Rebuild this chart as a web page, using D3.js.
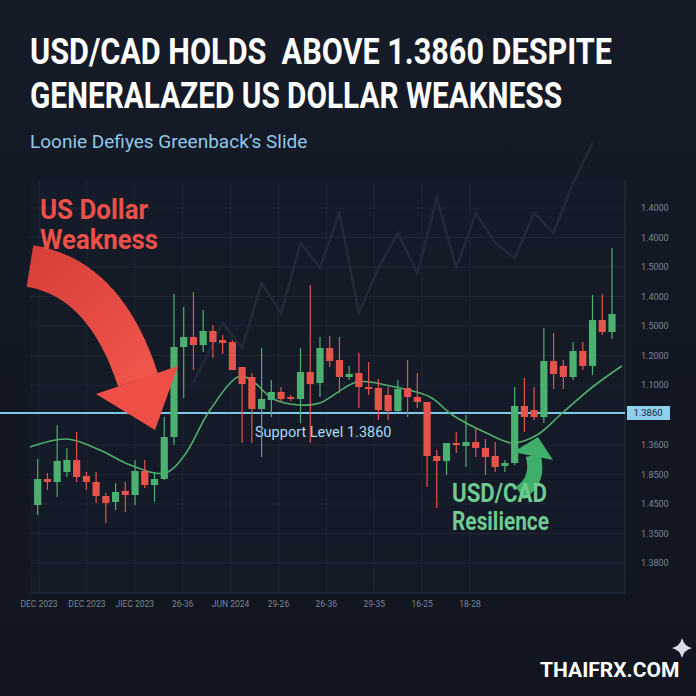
<!DOCTYPE html>
<html>
<head>
<meta charset="utf-8">
<script src="https://cdn.jsdelivr.net/npm/d3@7"></script>
<style>
  html, body { margin: 0; padding: 0; background: #121722; }
  svg { display: block; }
</style>
</head>
<body>
<div id="chart"></div>
<script>
// candles: open, high, low, close
const opens  = [1.3768,1.3794,1.3791,1.3801,1.3813,1.3797,1.3791,1.3777,1.3771,1.3782,1.3778,1.3802,1.3788,1.3794,1.3836,1.3926,1.3936,1.3928,1.3942,1.3933,
                1.3931,1.3906,1.3896,1.3864,1.3873,1.3881,1.3876,1.3874,1.3901,1.3890,1.3925,1.3913,1.3896,1.3900,1.3886,1.3885,1.3878,1.3862,1.3885,1.3876,
                1.3871,1.3817,1.3812,1.3830,1.3827,1.3831,1.3825,1.3817,1.3807,1.3810,1.3867,1.3863,1.3856,1.3912,1.3907,1.3896,1.3922,1.3907,1.3953,1.3941];
const highs  = [1.3814,1.3800,1.3848,1.3825,1.3841,1.3801,1.3801,1.3780,1.3790,1.3791,1.3813,1.3813,1.3801,1.3856,1.3979,1.3966,1.3981,1.3963,1.3948,1.3938,
                1.3933,1.3906,1.3900,1.3925,1.3893,1.3886,1.3878,1.3925,1.3988,1.3936,1.3937,1.3936,1.3907,1.3920,1.3911,1.3894,1.3886,1.3893,1.3913,1.3900,
                1.3871,1.3823,1.3830,1.3841,1.3858,1.3845,1.3834,1.3831,1.3813,1.3886,1.3895,1.3886,1.3945,1.3940,1.3913,1.3931,1.3931,1.3978,1.3979,1.4025];
const lows   = [1.3758,1.3783,1.3776,1.3796,1.3791,1.3783,1.3770,1.3750,1.3763,1.3761,1.3768,1.3785,1.3771,1.3793,1.3828,1.3875,1.3903,1.3921,1.3915,1.3919,
                1.3903,1.3830,1.3830,1.3816,1.3856,1.3871,1.3872,1.3850,1.3830,1.3876,1.3906,1.3880,1.3893,1.3865,1.3878,1.3853,1.3853,1.3861,1.3856,1.3865,
                1.3786,1.3765,1.3798,1.3820,1.3806,1.3816,1.3798,1.3801,1.3801,1.3808,1.3841,1.3853,1.3850,1.3884,1.3884,1.3893,1.3903,1.3898,1.3938,1.3934];
const closes = [1.3794,1.3791,1.3812,1.3813,1.3796,1.3791,1.3777,1.3770,1.3781,1.3778,1.3802,1.3788,1.3794,1.3836,1.3926,1.3936,1.3928,1.3942,1.3931,1.3930,
                1.3903,1.3889,1.3864,1.3874,1.3881,1.3874,1.3874,1.3901,1.3889,1.3925,1.3912,1.3896,1.3899,1.3886,1.3885,1.3863,1.3862,1.3884,1.3876,1.3871,
                1.3817,1.3812,1.3830,1.3828,1.3831,1.3825,1.3816,1.3806,1.3810,1.3867,1.3856,1.3856,1.3912,1.3899,1.3896,1.3922,1.3907,1.3953,1.3941,1.3959];

// moving average (candle index, price)
const maIdx   = [-0.8,3,6.4,9.5,13.1,15.1,17.7,20.8,22.3,24.2,26.9,29,32.8,36.2,40.3,42.6,46.1,48.8,51.3,53.9,57,60];
const maPrice = [1.3826,1.3834,1.3823,1.3808,1.3800,1.3818,1.3863,1.3897,1.3890,1.3874,1.3868,1.3870,1.3891,1.3887,1.3876,1.3858,1.3840,1.3830,1.3838,1.3860,1.3886,1.3907];

// faint background line
const ghostIdx   = [16,19,21,23,25,27,29,31,33,35,37,39,41,43,45,47,49,51,53,55,57];
const ghostPrice = [1.3890,1.3950,1.3925,1.3990,1.3960,1.4030,1.4005,1.4060,1.3960,1.4005,1.4040,1.4000,1.4075,1.4005,1.4060,1.4030,1.4015,1.4060,1.4040,1.4090,1.4130];

const yTickLabels = ['1.4000','1.4000','1.5000','1.4000','1.5000','1.2000','1.1000','1.3600','1.8500','1.4500','1.3500','1.3800'];
const xTickLabels = ['DEC 2023','DEC 2023','JIEC 2023','26-36','JUN 2024','29-26','26-36','29-35','16-25','18-28'];
const support = 1.3860;

const W = 696, H = 696;
const svg = d3.select('#chart').append('svg').attr('width', W).attr('height', H);
const defs = svg.append('defs');

const bg = defs.append('linearGradient').attr('id', 'bg').attr('x1', 0).attr('y1', 0).attr('x2', 0).attr('y2', 1);
bg.append('stop').attr('offset', '0%').attr('stop-color', '#151b27');
bg.append('stop').attr('offset', '100%').attr('stop-color', '#101520');
svg.append('rect').attr('width', W).attr('height', H).attr('fill', 'url(#bg)');

// plot area
const pL = 30, pR = 625, pT = 180, pB = 593;
svg.append('rect').attr('x', pL).attr('y', pT).attr('width', pR - pL).attr('height', pB - pT)
  .attr('fill', '#161d2a').attr('opacity', 0.7);

const x = d3.scaleLinear().domain([0, 59]).range([37.7, 612]);
const y = d3.scaleLinear().domain([1.3683, 1.4093]).range([590, 180]);
// label slots: seven above the support tag, five below
const slotY = i => i < 7 ? 208 + i * 29.5 : 445 + (i - 7) * 29.5;

const small = 'Roboto, sans-serif';
const grid = svg.append('g');
yTickLabels.forEach((t, i) => {
  grid.append('line').attr('x1', pL).attr('x2', pR).attr('y1', slotY(i)).attr('y2', slotY(i))
    .attr('stroke', '#1f2735').attr('stroke-width', 1);
  svg.append('text').attr('x', 641).attr('y', slotY(i)).attr('dy', '0.35em')
    .attr('font-family', small).attr('font-size', 9).attr('fill', '#7d8596').text(t);
});
const xTick = d3.scaleLinear().domain([0, 9]).range([39, 470]);
xTickLabels.forEach((t, i) => {
  grid.append('line').attr('x1', xTick(i)).attr('x2', xTick(i)).attr('y1', pT).attr('y2', pB)
    .attr('stroke', '#1d2533').attr('stroke-width', 1);
  svg.append('text').attr('x', xTick(i)).attr('y', 607).attr('text-anchor', 'middle')
    .attr('font-family', small).attr('font-size', 8.5).attr('fill', '#7d8596').text(t);
});
svg.append('line').attr('x1', pR).attr('x2', pR).attr('y1', pT).attr('y2', pB).attr('stroke', '#2a3343');
svg.append('line').attr('x1', pL).attr('x2', pR).attr('y1', pB).attr('y2', pB).attr('stroke', '#2a3343');

// ghost line
svg.append('path')
  .datum(ghostIdx.map((d, i) => [d, ghostPrice[i]]))
  .attr('d', d3.line().x(d => x(d[0])).y(d => y(d[1])))
  .attr('fill', 'none').attr('stroke', '#222a38').attr('stroke-width', 2.5);

// support line
svg.append('line').attr('x1', 0).attr('x2', pR).attr('y1', y(support)).attr('y2', y(support))
  .attr('stroke', '#7cc6e6').attr('stroke-width', 1.8);
svg.append('rect').attr('x', 627).attr('y', y(support) - 7).attr('width', 43).attr('height', 14)
  .attr('fill', '#8fd0ee');
svg.append('text').attr('x', 648).attr('y', y(support)).attr('dy', '0.35em').attr('text-anchor', 'middle')
  .attr('font-family', small).attr('font-size', 9.5).attr('fill', '#1b2433').text('1.3860');
svg.append('text').attr('x', 255).attr('y', y(support) + 24)
  .attr('font-family', 'Roboto, sans-serif').attr('font-size', 14.5).attr('fill', '#a9dbf1')
  .text('Support Level 1.3860');

// moving average
svg.append('path')
  .datum(maIdx.map((d, i) => [d, maPrice[i]]))
  .attr('d', d3.line().x(d => x(d[0])).y(d => y(d[1])).curve(d3.curveCatmullRom))
  .attr('fill', 'none').attr('stroke', '#4fae6c').attr('stroke-width', 1.6);

// candles
const green = '#4cb070', red = '#e5534b';
const candles = svg.append('g');
opens.forEach((o, i) => {
  const c = closes[i], col = c >= o ? green : red;
  candles.append('line').attr('x1', x(i)).attr('x2', x(i)).attr('y1', y(highs[i])).attr('y2', y(lows[i]))
    .attr('stroke', col).attr('stroke-width', 1.2);
  candles.append('rect').attr('x', x(i) - 3.6).attr('width', 7.2)
    .attr('y', y(Math.max(o, c))).attr('height', Math.max(2, Math.abs(y(o) - y(c))))
    .attr('fill', col);
});

// red arrow
const ra = defs.append('linearGradient').attr('id', 'ra').attr('x1', 0).attr('y1', 0).attr('x2', 1).attr('y2', 1);
ra.append('stop').attr('offset', '0%').attr('stop-color', '#d8403a');
ra.append('stop').attr('offset', '100%').attr('stop-color', '#f0554c');
svg.append('path').attr('d', 'M30,266 Q105,278 138,380')
  .attr('fill', 'none').attr('stroke', 'url(#ra)').attr('stroke-width', 42);
svg.append('path').attr('d', 'M96,394 L178,366 L155,430 Z').attr('fill', '#ee5047');

// green arrow
svg.append('path').attr('d', 'M520,493 Q540,480 533,455')
  .attr('fill', 'none').attr('stroke', '#3fae6a').attr('stroke-width', 15);
svg.append('path').attr('d', 'M513,452 L553,460 L538,437 Z').attr('fill', '#3fae6a');

const bold = 'Roboto, sans-serif';
function label(t, xx, yy, size, col, len) {
  svg.append('text').attr('x', xx).attr('y', yy).attr('font-family', bold).attr('font-weight', 'bold')
    .attr('font-size', size).attr('fill', col).attr('textLength', len).attr('lengthAdjust', 'spacingAndGlyphs')
    .style('white-space', 'pre').text(t);
}
label('US Dollar', 40, 219, 28, '#ec5048', 108);
label('Weakness', 40, 249, 28, '#ec5048', 118);
label('USD/CAD', 452, 502, 25, '#6fca8f', 95);
label('Resilience', 452, 530, 25, '#6fca8f', 97);

// titles
label('USD/CAD HOLDS  ABOVE 1.3860 DESPITE', 30, 64, 36, '#ffffff', 582);
label('GENERALAZED US DOLLAR WEAKNESS', 30, 108, 36, '#ffffff', 532);
svg.append('text').attr('x', 30).attr('y', 148).attr('font-family', 'Roboto, sans-serif')
  .attr('font-size', 19).attr('fill', '#8fc8ea').text('Loonie Defiyes Greenback\u2019s Slide');

// brand
svg.append('text').attr('x', 540).attr('y', 677).attr('font-family', 'Roboto, sans-serif').attr('font-weight', 'bold')
  .attr('font-size', 21).attr('fill', '#ffffff').text('THAIFRX.COM');
svg.append('path').attr('d', 'M682,638 Q684,646 692,648 Q684,650 682,658 Q680,650 672,648 Q680,646 682,638 Z')
  .attr('fill', '#d8dce4');
</script>
</body>
</html>
